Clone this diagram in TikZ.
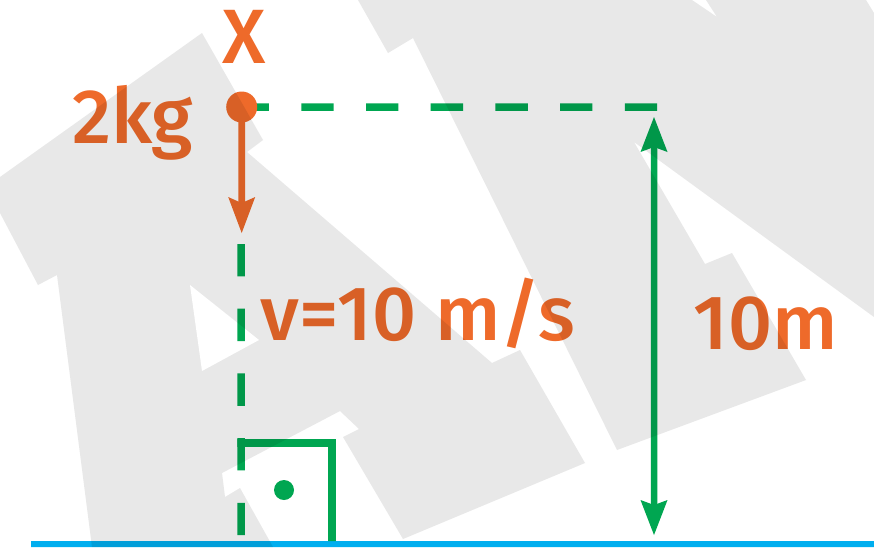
\documentclass[tikz,border=0pt]{standalone}
\usepackage{fontspec}
\setmainfont{Fira Sans}
\newfontfamily\lblfont{Fira Sans}[UprightFont=* Medium]
\usetikzlibrary{arrows.meta}
\definecolor{bgray}{HTML}{E8E8E8}
\definecolor{orng}{HTML}{EE6A2A}
\definecolor{grn}{HTML}{00A651}
\definecolor{skyb}{HTML}{00AEEF}
\tikzset{
  bgshape/.style={fill=bgray, draw=none},
  holeshape/.style={fill=white, draw=none},
  lbl/.style={text=orng, font=\fontsize{77}{80}\lblfont, inner sep=0pt, anchor=base},
  xlbl/.style={text=orng, font=\fontsize{77}{80}\lblfont, inner sep=0pt, anchor=base},
  gdash/.style={draw=grn, line width=7.5pt, dash pattern=on 32.35pt off 32.35pt},
  gline/.style={draw=grn, line width=7.7pt},
  otip/.style={-{Stealth[length=36pt,width=27pt,inset=6pt,line width=0pt]}},
  gtips/.style={{Stealth[length=35pt,width=27pt,inset=5pt,line width=0pt]}-{Stealth[length=35pt,width=27pt,inset=5pt,line width=0pt]}},
}
\begin{document}
\begin{tikzpicture}[x=1pt,y=-1pt]
\useasboundingbox (0,0) rectangle (874,547);
\fill[white] (0,0) rectangle (874,547);
% background watermark shapes
\path[bgshape] (0,177) -- (202,33) -- (263,140) -- (247,152) -- (492,363) -- (520,350)
  -- (585,463) -- (403,539) -- (343,437) -- (359,429) -- (340,411) -- (222,473)
  -- (225,497) -- (240,488) -- (273,547) -- (92,547) -- (57,275) -- (38,285) -- (0,213) -- cycle;
\path[holeshape] (190,285) -- (259,340) -- (202,371) -- cycle;
\path[bgshape] (358,0) -- (692,0) -- (717,17) -- (706,0) -- (866,0) -- (874,13) -- (874,317)
  -- (634,142) -- (705,264) -- (732,253) -- (806,380) -- (617,450) -- (413,38) -- (388,53) -- cycle;
% key points
\coordinate (dot) at (241.7,107);
\coordinate (otipend) at (241.7,233);
\coordinate (hstart) at (236.6,107);
\coordinate (hend) at (657,107);
\coordinate (vstart) at (241,244);
\coordinate (vend) at (241,535.5);
\coordinate (sqa) at (237.25,443);
\coordinate (sqb) at (332,443);
\coordinate (sqc) at (332,541);
\coordinate (sqdot) at (284,490);
\coordinate (htop) at (654,117);
\coordinate (hbot) at (654,535);
\coordinate (gl) at (31,541);
\coordinate (gr) at (874,547);
\begin{scope}[blend mode=multiply]
\begin{scope}[transparency group]
  \fill[skyb] (gl) rectangle (gr);
  \draw[gdash] (hstart) -- (hend);
  \draw[gdash] (vstart) -- (vend);
  \draw[gline] (sqa) -- (sqb) -- (sqc);
  \fill[grn] (sqdot) circle (10pt);
  \draw[grn, line width=6.5pt, gtips] (htop) -- (hbot);
  \draw[orng, line width=6.7pt, otip] (dot) -- (otipend);
  \fill[orng] (dot) circle (15.5pt);
  \node[xlbl] (xmark) at (244,63) {X};
  \node[lbl] (mass) at (132.5,143) {2kg};
  \node[lbl] (vel) at (418,340) {v=10 m/s};
  \node[lbl] (height) at (765.5,349) {10m};
\end{scope}
\end{scope}
\end{tikzpicture}
\end{document}
